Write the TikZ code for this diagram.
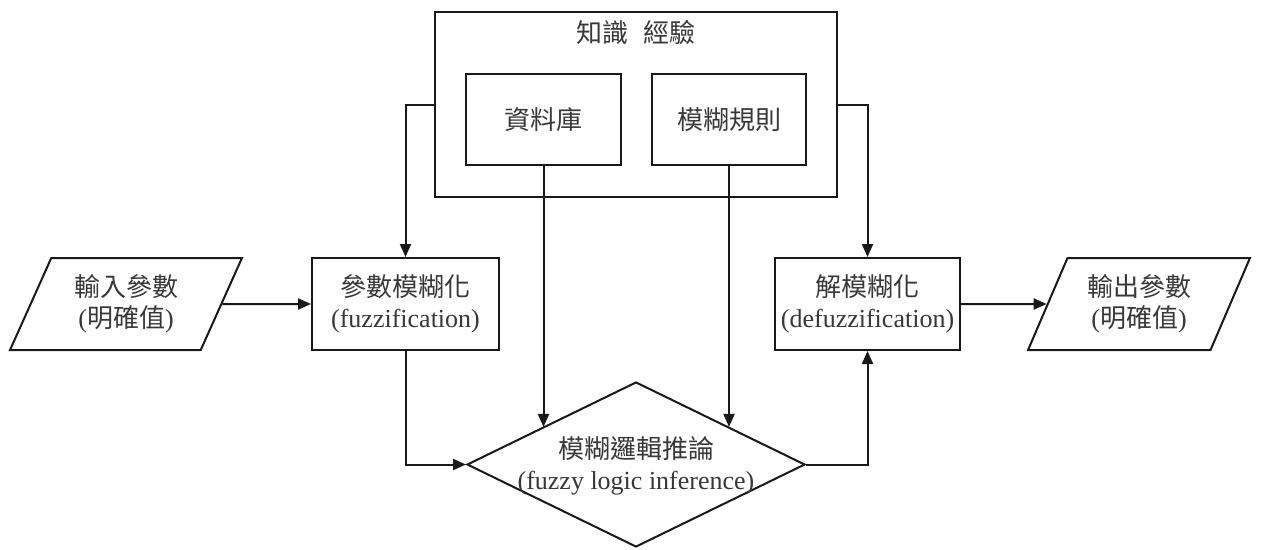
\documentclass[tikz,border=0pt]{standalone}
\usepackage{fontspec}
\setmainfont{Liberation Serif}
\newfontfamily\cjk{Noto Sans CJK TC}
\usetikzlibrary{arrows.meta,shapes.geometric,calc}
\begin{document}
\begin{tikzpicture}[x=1pt,y=-1pt,
  every node/.style={font=\fontsize{26}{31}\selectfont, text=black!78, align=center},
  box/.style={draw=black!90, line width=2pt, inner sep=0pt},
  para/.style={draw=black!90, line width=2pt, inner sep=0pt, trapezium, trapezium left angle=63.9, trapezium right angle=116.1, trapezium stretches=true, minimum height=92pt},
  arr/.style={draw=black!90, line width=2pt, -{Triangle[length=13pt,width=11pt]}}]
\fill[white] (0,0) rectangle (1265,549);
\useasboundingbox (0,0) rectangle (1265,549);
% knowledge box
\node[box, minimum width=402pt, minimum height=185pt] (kb) at (636,104.5) {};
\node (kbt) at (636,33) {{\cjk 知識}\hspace{0.55em}{\cjk 經驗}};
\node[box, minimum width=155pt, minimum height=91pt] (db) at (543.5,119.5) {{\cjk 資料庫}};
\node[box, minimum width=154pt, minimum height=91pt] (rules) at (729,119.5) {{\cjk 模糊規則}};
% main row
\node[para, minimum width=232pt] (in) at (126,304) {{\cjk 輸入參數}\\(\mbox{\cjk 明確值})};
\node[box, minimum width=187pt, minimum height=92pt] (fz) at (405.5,304) {{\cjk 參數模糊化}\\(fuzzification)};
\node[box, minimum width=185pt, minimum height=92pt] (defz) at (867.5,304) {{\cjk 解模糊化}\\(defuzzification)};
\node[para, minimum width=222pt] (out) at (1139,304) {{\cjk 輸出參數}\\(\mbox{\cjk 明確值})};
% diamond
\node[diamond, draw=black!90, line width=2pt, inner sep=0pt, minimum width=338pt, minimum height=165pt] (dia) at (636,464.5) {};
\node (diat) at (636,466) {{\cjk 模糊邏輯推論}\\(fuzzy logic inference)};
\coordinate (dbhit) at ($(dia.west)!0.45!(dia.north)$);
\coordinate (ruhit) at ($(dia.east)!0.45!(dia.north)$);
% connectors
\draw[arr] (kb.west) -| (fz.north);
\draw[arr] (kb.east) -| (defz.north);
\draw[arr] (db.south) -- (db.south |- dbhit);
\draw[arr] (rules.south) -- (rules.south |- ruhit);
\draw[arr] (in) -- (fz);
\draw[arr] (fz.south) |- (dia.west);
\draw[arr] (dia.east) -| (defz.south);
\draw[arr] (defz) -- (out);
\end{tikzpicture}
\end{document}
